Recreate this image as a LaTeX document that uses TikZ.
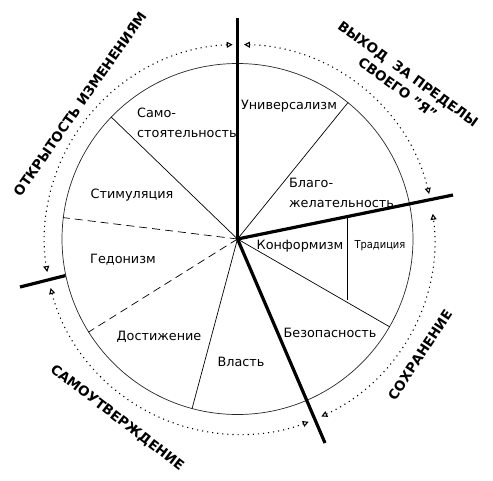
\documentclass[tikz,border=0pt]{standalone}
\usepackage{fontspec}
\setmainfont{DejaVu Sans}
\newfontfamily\condfont{DejaVu Sans Condensed}
\usetikzlibrary{arrows.meta}
\begin{document}
\begin{tikzpicture}[x=1pt,y=-1pt,
  boldline/.style={line width=3.2pt},
  thinline/.style={line width=0.7pt},
  dashline/.style={line width=0.7pt, dash pattern=on 8pt off 5pt},
  dotarc/.style={line width=1.1pt, dash pattern=on 1.1pt off 4pt,
    {Triangle[open,length=6pt,width=6pt]}-{Triangle[open,length=6pt,width=6pt]}},
  sector/.style={font=\fontsize{12.8}{15}\selectfont, inner sep=0pt},
  group/.style={font=\bfseries\fontsize{13.5}{17.5}\selectfont, inner sep=0pt, align=center}
]
\useasboundingbox (0,0) rectangle (493,480);
\coordinate (C) at (237.5,239);
\coordinate (D) at (239.5,239.5);
\node[circle, draw=black!85, thinline, minimum size=351pt, inner sep=0pt] (circ) at (C) {};

% thin sector dividers
\draw[thinline] (C) -- (circ.51.8);
\draw[thinline] (C) -- (circ.136.9);
\draw[dashline] (C) -- (circ.173.1);
\draw[dashline] (C) -- (circ.212.2);
\draw[thinline] (C) -- (circ.255.2);
\draw[thinline] (C) -- (circ.330.9);
\coordinate (T1) at (347,216.6);
\coordinate (T2) at (347,300);
\draw[thinline] (T1) -- (T2);

% thick boundaries
\coordinate (Etop) at (237.5,18);
\coordinate (Eright) at (453,195);
\coordinate (Ebottom) at (325,443);
\coordinate (Eleft) at (20,287);
\draw[boldline] (C) -- (Etop);
\draw[boldline] (C) -- (Eright);
\draw[boldline] (C) -- (Ebottom);
\draw[boldline] (circ.192.5) -- (Eleft);

% dotted arcs
\draw[dotarc] (D) ++(-92:195) arc[start angle=-92, end angle=-189.6, radius=195];
\draw[dotarc] (D) ++(-194.4:195) arc[start angle=-194.4, end angle=-290.8, radius=195];
\draw[dotarc] (D) ++(-294.8:195) arc[start angle=-294.8, end angle=-367.6, radius=195];
\draw[dotarc] (D) ++(-13.5:195) arc[start angle=-13.5, end angle=-88.7, radius=195];

% sector labels
\node[sector] (univ) at (289,106) {Универсализм};
\node[sector, font=\fontsize{12.8}{20}\selectfont, anchor=west, align=left] (samo) at (137,123) {Само-\\стоятельность};
\node[sector, font=\fontsize{12.8}{20}\selectfont, anchor=west, align=left] (blago) at (289,192.5) {Благо-\\желательность};
\node[sector] (konf) at (300,246) {Конформизм};
\node[sector, font=\condfont\fontsize{11}{13}\selectfont] (trad) at (380,246) {Традиция};
\node[sector] (bezop) at (330,333) {Безопасность};
\node[sector] (vlast) at (241,362) {Власть};
\node[sector] (dost) at (159,337) {Достижение};
\node[sector] (gedon) at (123,260) {Гедонизм};
\node[sector] (stim) at (132,195) {Стимуляция};

% group labels
\node[group, rotate=55] (open) at (80,104) {ОТКРЫТОСТЬ ИЗМЕНЕНИЯМ};
\node[group, rotate=-36] (trans) at (403,81) {ВЫХОД\ \ ЗА ПРЕДЕЛЫ\\СВОЕГО "Я"};
\node[group, rotate=-37.5] (selfenh) at (117,418) {САМОУТВЕРЖДЕНИЕ};
\node[group, rotate=56.6] (cons) at (420,355) {СОХРАНЕНИЕ};
\end{tikzpicture}
\end{document}
